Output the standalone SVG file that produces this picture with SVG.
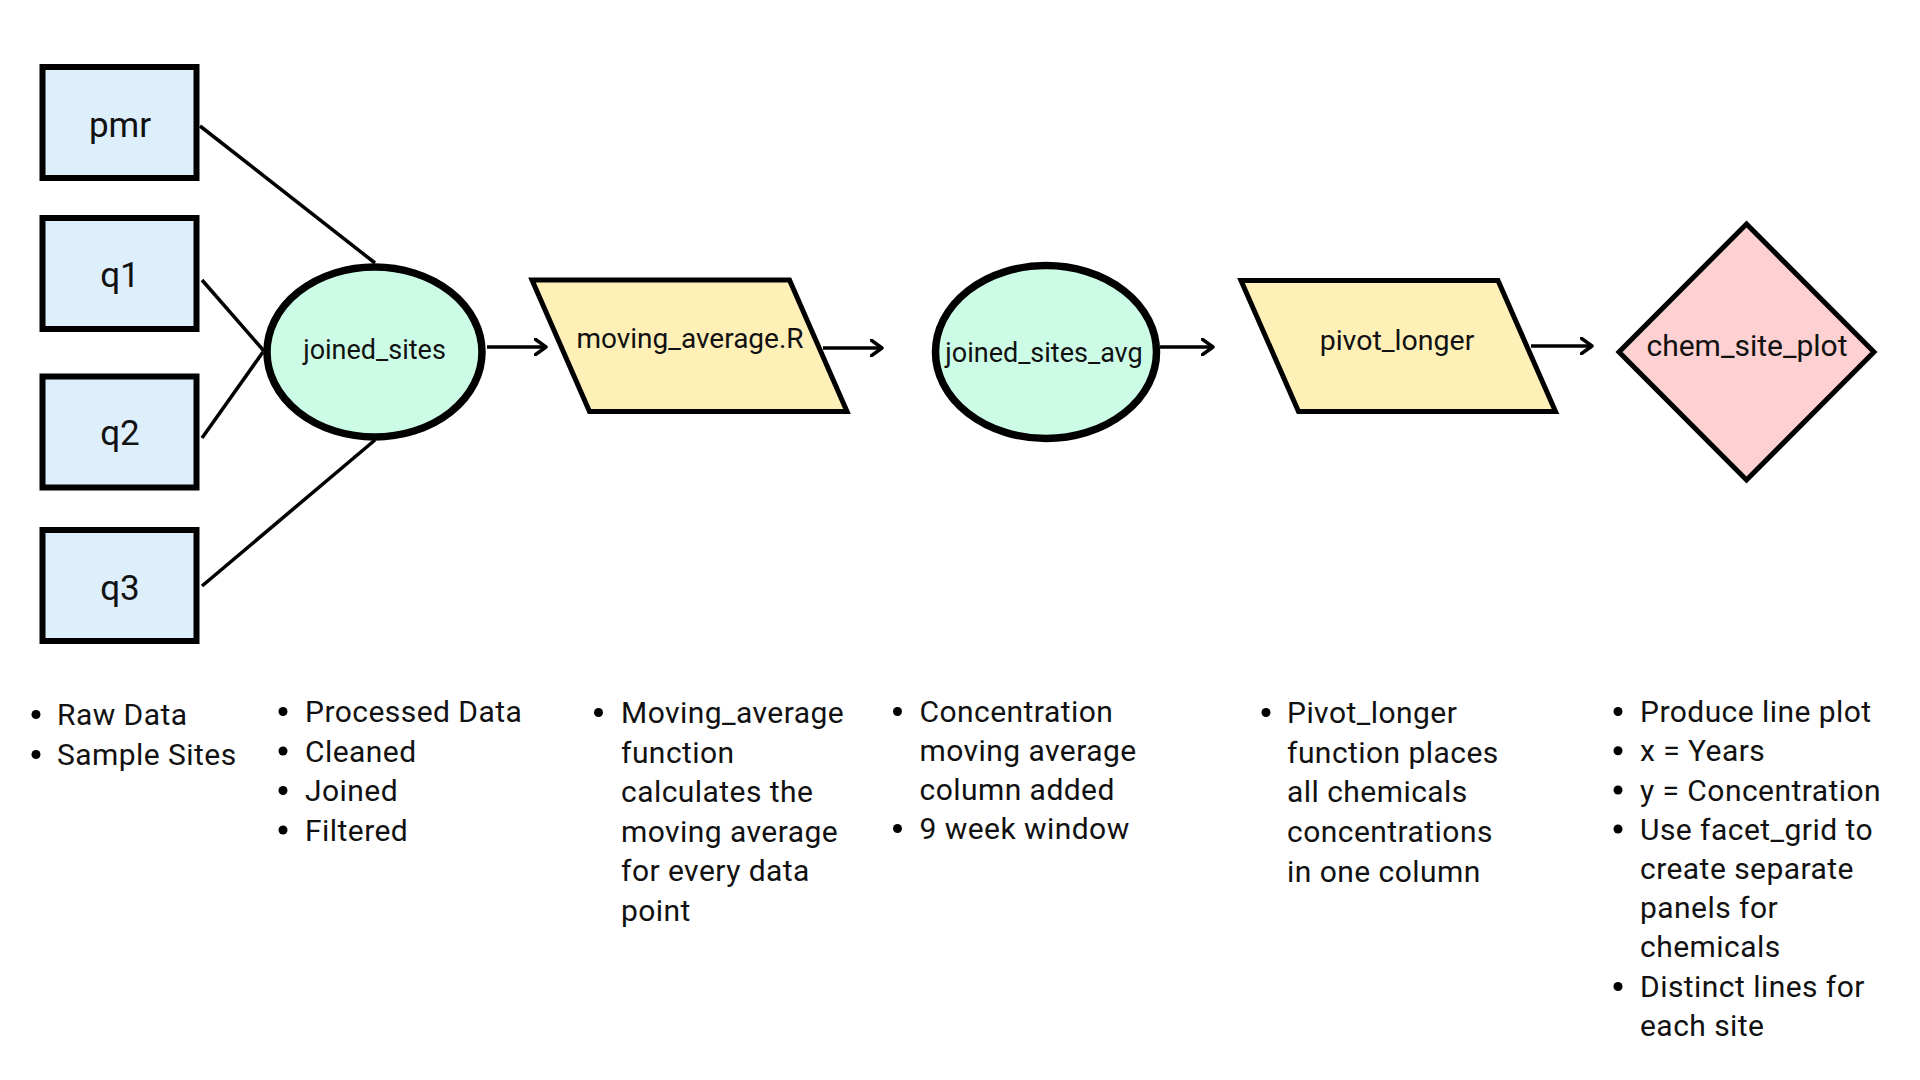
<svg xmlns="http://www.w3.org/2000/svg" width="1920" height="1080" viewBox="0 0 1920 1080">
  <style>
    .lbl { font-family: Roboto, "Liberation Sans", sans-serif; fill: #111; text-anchor: middle; }
    .blt { font-family: Roboto, "Liberation Sans", sans-serif; fill: #111; font-size: 30px; letter-spacing: 0.45px; }
    .box { fill: #DCEFFB; stroke: #000; stroke-width: 6; }
    .ell { fill: #CDFCE6; stroke: #000; stroke-width: 7.5; }
    .par { fill: #FFF0B8; stroke: #000; stroke-width: 5; stroke-linejoin: miter; }
    .dia { fill: #FDD0D1; stroke: #000; stroke-width: 5; }
    .con { stroke: #000; stroke-width: 3.5; fill: none; }
    .arr { stroke: #000; stroke-width: 3.5; fill: none; marker-end: url(#head); }
    .dot { fill: #000; }
  </style>
  <defs>
    <marker id="head" markerUnits="userSpaceOnUse" viewBox="0 0 14 18" refX="12" refY="9" markerWidth="14" markerHeight="18" orient="auto">
      <path d="M1,1 L12,9 L1,17" fill="none" stroke="#000" stroke-width="3.5" stroke-linecap="round" stroke-linejoin="round"/>
    </marker>
  </defs>
  <rect width="1920" height="1080" fill="#fff"/>

  <g id="connectors">
    <line class="con" x1="200" y1="126" x2="375" y2="263"/>
    <line class="con" x1="202" y1="280" x2="264" y2="351"/>
    <line class="con" x1="202" y1="438" x2="263" y2="352"/>
    <line class="con" x1="202" y1="586" x2="375" y2="440"/>
    <line class="arr" x1="487" y1="347" x2="546" y2="347"/>
    <line class="arr" x1="823" y1="348" x2="882" y2="348"/>
    <line class="arr" x1="1160" y1="347" x2="1213" y2="347"/>
    <line class="arr" x1="1531" y1="346" x2="1592" y2="346"/>
  </g>

  <g id="node-pmr">
    <rect class="box" x="42.5" y="67" width="154" height="111"/>
    <text class="lbl" x="120" y="137" font-size="35">pmr</text>
  </g>
  <g id="node-q1">
    <rect class="box" x="42.5" y="218" width="154" height="111"/>
    <text class="lbl" x="120" y="287" font-size="35">q1</text>
  </g>
  <g id="node-q2">
    <rect class="box" x="42.5" y="376.5" width="154" height="111"/>
    <text class="lbl" x="120" y="445" font-size="35">q2</text>
  </g>
  <g id="node-q3">
    <rect class="box" x="42.5" y="530" width="154" height="111"/>
    <text class="lbl" x="120" y="600" font-size="35">q3</text>
  </g>

  <g id="node-joined_sites">
    <ellipse class="ell" cx="374.5" cy="352" rx="107.5" ry="85"/>
    <text class="lbl" x="374.5" y="359" font-size="27">joined_sites</text>
  </g>

  <g id="node-moving_average">
    <polygon class="par" points="532,280 789.5,280 847,411.5 589.5,411.5"/>
    <text class="lbl" x="690" y="348" font-size="28">moving_average.R</text>
  </g>

  <g id="node-joined_sites_avg">
    <ellipse class="ell" cx="1046" cy="352" rx="110.5" ry="86.5"/>
    <text class="lbl" x="1044" y="361.5" font-size="27">joined_sites_avg</text>
  </g>

  <g id="node-pivot_longer">
    <polygon class="par" points="1241,280.5 1498,280.5 1555.5,411.5 1298.5,411.5"/>
    <text class="lbl" x="1397" y="350" font-size="28.5">pivot_longer</text>
  </g>

  <g id="node-chem_site_plot">
    <polygon class="dia" points="1746.5,224 1874,352 1746.5,480 1619,352"/>
    <text class="lbl" x="1747" y="356" font-size="30">chem_site_plot</text>
  </g>

  <g id="notes-raw">
    <circle class="dot" cx="36" cy="714.5" r="4.5"/>
    <circle class="dot" cx="36" cy="754.5" r="4.5"/>
    <text class="blt" x="57" y="725">Raw Data</text>
    <text class="blt" x="57" y="765">Sample Sites</text>
  </g>

  <g id="notes-processed">
    <circle class="dot" cx="283" cy="711.5" r="4.5"/>
    <circle class="dot" cx="283" cy="751" r="4.5"/>
    <circle class="dot" cx="283" cy="790.5" r="4.5"/>
    <circle class="dot" cx="283" cy="830" r="4.5"/>
    <text class="blt" x="305" y="722">Processed Data</text>
    <text class="blt" x="305" y="761.5">Cleaned</text>
    <text class="blt" x="305" y="801">Joined</text>
    <text class="blt" x="305" y="840.5">Filtered</text>
  </g>

  <g id="notes-moving">
    <circle class="dot" cx="598.5" cy="712.5" r="4.5"/>
    <text class="blt" x="621" y="723">Moving_average</text>
    <text class="blt" x="621" y="762.6">function</text>
    <text class="blt" x="621" y="802.2">calculates the</text>
    <text class="blt" x="621" y="841.8">moving average</text>
    <text class="blt" x="621" y="881.4">for every data</text>
    <text class="blt" x="621" y="921">point</text>
  </g>

  <g id="notes-avg">
    <circle class="dot" cx="897.5" cy="711.5" r="4.5"/>
    <circle class="dot" cx="897.5" cy="828.5" r="4.5"/>
    <text class="blt" x="919.5" y="722">Concentration</text>
    <text class="blt" x="919.5" y="761">moving average</text>
    <text class="blt" x="919.5" y="800">column added</text>
    <text class="blt" x="919.5" y="839">9 week window</text>
  </g>

  <g id="notes-pivot">
    <circle class="dot" cx="1266" cy="712.5" r="4.5"/>
    <text class="blt" x="1287" y="723">Pivot_longer</text>
    <text class="blt" x="1287" y="762.7">function places</text>
    <text class="blt" x="1287" y="802.4">all chemicals</text>
    <text class="blt" x="1287" y="842.1">concentrations</text>
    <text class="blt" x="1287" y="881.8">in one column</text>
  </g>

  <g id="notes-plot">
    <circle class="dot" cx="1618" cy="711.5" r="4.5"/>
    <circle class="dot" cx="1618" cy="750.8" r="4.5"/>
    <circle class="dot" cx="1618" cy="790" r="4.5"/>
    <circle class="dot" cx="1618" cy="829" r="4.5"/>
    <circle class="dot" cx="1618" cy="986.5" r="4.5"/>
    <text class="blt" x="1640" y="722">Produce line plot</text>
    <text class="blt" x="1640" y="761.3">x = Years</text>
    <text class="blt" x="1640" y="800.5">y = Concentration</text>
    <text class="blt" x="1640" y="839.5">Use facet_grid to</text>
    <text class="blt" x="1640" y="878.8">create separate</text>
    <text class="blt" x="1640" y="918">panels for</text>
    <text class="blt" x="1640" y="957.3">chemicals</text>
    <text class="blt" x="1640" y="997">Distinct lines for</text>
    <text class="blt" x="1640" y="1036.3">each site</text>
  </g>
</svg>
